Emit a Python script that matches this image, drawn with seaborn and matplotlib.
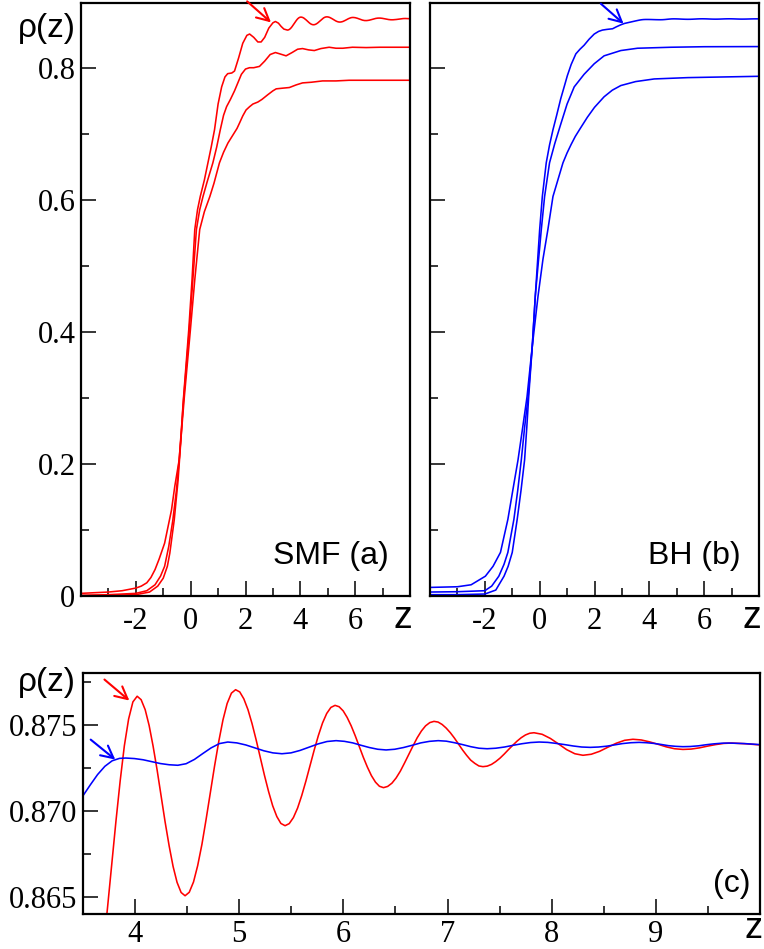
import matplotlib
matplotlib.use("Agg")
import matplotlib.pyplot as plt
import numpy as np
import pandas as pd
import seaborn as sns
from matplotlib.ticker import FixedLocator

# ---------------- data ----------------
# SMF, top curve (also shown magnified in panel c)
red_top_pts = [
    (-4.0, 0.0005), (-3.0, 0.001), (-2.0, 0.002), (-1.5, 0.006), (-1.2, 0.015),
    (-1.0, 0.027), (-0.85, 0.045), (-0.76, 0.065), (-0.6, 0.115), (-0.46, 0.175),
    (-0.35, 0.240), (-0.28, 0.290), (-0.17, 0.350), (-0.07, 0.403), (0.05, 0.479),
    (0.15, 0.555), (0.25, 0.585), (0.35, 0.605), (0.5, 0.630), (0.63, 0.656),
    (0.75, 0.680), (0.87, 0.706), (1.0, 0.745), (1.13, 0.771), (1.25, 0.786),
    (1.35, 0.791), (1.5, 0.792), (1.6, 0.795), (1.75, 0.815), (1.9, 0.837),
    (2.05, 0.849), (2.15, 0.851), (2.3, 0.846), (2.45, 0.839), (2.57, 0.839),
    (2.7, 0.846), (2.85, 0.860), (3.0, 0.868), (3.09, 0.870), (3.2, 0.8675),
    (3.3, 0.8625), (3.4, 0.8585),
    (3.530, 0.85700), (3.571, 0.85733), (3.612, 0.85832), (3.652, 0.85988), (3.693, 0.86191),
    (3.734, 0.86428), (3.775, 0.86683), (3.816, 0.86937), (3.857, 0.87174), (3.897, 0.87377),
    (3.938, 0.87533), (3.979, 0.87632), (4.020, 0.87665),
    (4.058, 0.87645), (4.097, 0.87587), (4.135, 0.87495), (4.173, 0.87375), (4.212, 0.87235),
    (4.250, 0.87086), (4.288, 0.86936), (4.327, 0.86796), (4.365, 0.86676), (4.403, 0.86584),
    (4.442, 0.86525), (4.480, 0.86506),
    (4.520, 0.86526), (4.561, 0.86586), (4.601, 0.86681), (4.642, 0.86805), (4.682, 0.86950),
    (4.723, 0.87105), (4.763, 0.87259), (4.804, 0.87404), (4.844, 0.87528), (4.884, 0.87623),
    (4.925, 0.87683), (4.965, 0.87703),
    (5.005, 0.87690), (5.044, 0.87650), (5.084, 0.87587), (5.123, 0.87506), (5.163, 0.87410),
    (5.203, 0.87308), (5.242, 0.87206), (5.282, 0.87111), (5.321, 0.87029), (5.361, 0.86966),
    (5.400, 0.86926), (5.440, 0.86913),
    (5.480, 0.86925), (5.520, 0.86960), (5.560, 0.87015), (5.600, 0.87088), (5.640, 0.87172),
    (5.680, 0.87263), (5.720, 0.87353), (5.760, 0.87437), (5.800, 0.87510), (5.840, 0.87565),
    (5.880, 0.87600), (5.920, 0.87612),
    (5.959, 0.87604), (5.998, 0.87580), (6.036, 0.87542), (6.075, 0.87493), (6.114, 0.87435),
    (6.153, 0.87373), (6.191, 0.87311), (6.230, 0.87254), (6.269, 0.87204), (6.308, 0.87166),
    (6.346, 0.87142), (6.385, 0.87134),
    (6.425, 0.87141), (6.466, 0.87160), (6.506, 0.87190), (6.547, 0.87230), (6.587, 0.87277),
    (6.628, 0.87327), (6.668, 0.87376), (6.708, 0.87423), (6.749, 0.87463), (6.789, 0.87493),
    (6.830, 0.87512), (6.870, 0.87519),
    (6.909, 0.87515), (6.948, 0.87501), (6.987, 0.87480), (7.027, 0.87453), (7.066, 0.87422),
    (7.105, 0.87388), (7.144, 0.87353), (7.183, 0.87322), (7.222, 0.87294), (7.262, 0.87275),
    (7.301, 0.87260), (7.340, 0.87256),
    (7.381, 0.87259), (7.422, 0.87269), (7.462, 0.87285), (7.503, 0.87305), (7.544, 0.87329),
    (7.585, 0.87355), (7.626, 0.87380), (7.667, 0.87404), (7.707, 0.87424), (7.748, 0.87440),
    (7.789, 0.87450), (7.830, 0.87453),
    (7.908, 0.87444), (7.987, 0.87420), (8.065, 0.87388), (8.143, 0.87355),
    (8.222, 0.87331), (8.30, 0.87322), (8.38, 0.87328), (8.46, 0.87345), (8.54, 0.87369),
    (8.62, 0.87392), (8.70, 0.87409), (8.78, 0.87415), (8.86, 0.87411), (8.94, 0.87400),
    (9.02, 0.87386), (9.10, 0.87371), (9.18, 0.87360), (9.26, 0.87356), (9.338, 0.87358),
    (9.417, 0.87365), (9.495, 0.87375), (9.573, 0.87384), (9.652, 0.87391), (9.73, 0.87393),
    (9.86, 0.87389), (10.0, 0.87382),
]
red_mid_pts = [
    (-4.0, 0.001), (-3.0, 0.002), (-2.0, 0.004), (-1.6, 0.008), (-1.3, 0.017),
    (-1.1, 0.030), (-0.95, 0.045), (-0.8, 0.075), (-0.65, 0.115), (-0.52, 0.160),
    (-0.42, 0.206), (-0.25, 0.302), (-0.05, 0.403), (0.08, 0.479), (0.21, 0.555),
    (0.33, 0.585), (0.45, 0.605), (0.6, 0.627), (0.81, 0.656), (0.95, 0.680),
    (1.08, 0.706), (1.2, 0.728), (1.31, 0.741), (1.45, 0.752), (1.6, 0.765),
    (1.72, 0.777), (1.85, 0.790), (2.0, 0.798), (2.145, 0.800), (2.3, 0.800),
    (2.51, 0.802), (2.7, 0.810), (2.9, 0.820), (3.09, 0.823), (3.25, 0.821),
    (3.48, 0.818), (3.7, 0.823), (3.9, 0.828), (4.08, 0.829), (4.3, 0.827),
    (4.51, 0.826), (4.75, 0.829), (5.05, 0.831), (5.3, 0.8295), (5.55, 0.8295),
    (5.9, 0.831), (6.4, 0.8305), (6.9, 0.831), (7.5, 0.831), (8.0, 0.831),
]
red_low_pts = [
    (-4.0, 0.004), (-3.0, 0.006), (-2.5, 0.008), (-2.0, 0.012), (-1.8, 0.015),
    (-1.6, 0.020), (-1.45, 0.028), (-1.3, 0.040), (-1.15, 0.056), (-0.95, 0.080),
    (-0.7, 0.130), (-0.58, 0.166),
    (-0.42, 0.206), (-0.23, 0.302), (-0.01, 0.403), (0.15, 0.479), (0.33, 0.555),
    (0.5, 0.582), (0.7, 0.605), (0.85, 0.625), (1.05, 0.656), (1.2, 0.672),
    (1.36, 0.686), (1.54, 0.698), (1.69, 0.708), (1.78, 0.716), (1.9, 0.727),
    (2.02, 0.736), (2.15, 0.741), (2.27, 0.745), (2.45, 0.748), (2.6, 0.752),
    (2.81, 0.759), (3.0, 0.765), (3.12, 0.768), (3.35, 0.769), (3.6, 0.770),
    (3.85, 0.774), (4.08, 0.777), (4.4, 0.778), (4.81, 0.780), (5.3, 0.780),
    (5.78, 0.781), (6.5, 0.781), (8.0, 0.781),
]
# BH, top curve (also shown magnified in panel c)
blue_top_pts = [
    (-4.0, 0.002), (-3.0, 0.002), (-2.0, 0.003), (-1.6, 0.009), (-1.3, 0.030),
    (-1.15, 0.045), (-1.0, 0.066), (-0.82, 0.116), (-0.68, 0.160), (-0.55, 0.206),
    (-0.47, 0.255), (-0.40, 0.302), (-0.27, 0.378), (-0.16, 0.454), (0.0, 0.555),
    (0.097, 0.605), (0.24, 0.656), (0.36, 0.683), (0.485, 0.706), (0.62, 0.728),
    (0.768, 0.753), (0.9, 0.772), (1.01, 0.788), (1.15, 0.805), (1.32, 0.821),
    (1.47, 0.828), (1.62, 0.834), (1.8, 0.843), (1.99, 0.851), (2.15, 0.855),
    (2.29, 0.857), (2.45, 0.858), (2.66, 0.859), (2.8, 0.862), (2.96, 0.865),
    (3.09, 0.867), (3.3, 0.869), (3.5, 0.87087), (3.57, 0.87150), (3.64, 0.87210),
    (3.71, 0.87258), (3.78, 0.87290), (3.85, 0.87304), (3.91, 0.87306), (3.993, 0.87303),
    (4.077, 0.87296), (4.16, 0.87285), (4.243, 0.87274), (4.327, 0.87267), (4.41, 0.87264),
    (4.49, 0.87273), (4.57, 0.87298), (4.65, 0.87332), (4.73, 0.87365), (4.81, 0.87390),
    (4.89, 0.87399), (4.977, 0.87394), (5.063, 0.87382), (5.15, 0.87365), (5.237, 0.87348),
    (5.323, 0.87336), (5.41, 0.87331), (5.497, 0.87336), (5.583, 0.87350), (5.67, 0.87369),
    (5.757, 0.87388), (5.843, 0.87402), (5.93, 0.87407), (6.01, 0.87403), (6.09, 0.87394),
    (6.17, 0.87380), (6.25, 0.87367), (6.33, 0.87357), (6.41, 0.87353), (6.493, 0.87357),
    (6.577, 0.87367), (6.66, 0.87380), (6.743, 0.87394), (6.827, 0.87403), (6.91, 0.87407),
    (6.988, 0.87404), (7.067, 0.87395), (7.145, 0.87384), (7.223, 0.87372), (7.302, 0.87363),
    (7.38, 0.87360), (7.463, 0.87363), (7.547, 0.87370), (7.63, 0.87380), (7.713, 0.87389),
    (7.797, 0.87396), (7.88, 0.87399), (7.962, 0.87397), (8.043, 0.87391), (8.125, 0.87384),
    (8.207, 0.87376), (8.288, 0.87370), (8.37, 0.87368), (8.45, 0.87370), (8.53, 0.87375),
    (8.61, 0.87383), (8.68, 0.87390), (8.76, 0.87395), (8.84, 0.87397), (8.91, 0.87395),
    (8.98, 0.87391), (9.05, 0.87385), (9.12, 0.87378), (9.19, 0.87374), (9.26, 0.87372),
    (9.33, 0.87373), (9.41, 0.87377), (9.48, 0.87383), (9.55, 0.87388), (9.63, 0.87392),
    (9.70, 0.87393), (9.85, 0.87390), (10.0, 0.87384),
]
blue_mid_pts = [
    (-4.0, 0.006), (-3.0, 0.0065), (-2.0, 0.008), (-1.75, 0.015), (-1.49, 0.030),
    (-1.3, 0.048), (-1.16, 0.066), (-0.94, 0.116), (-0.8, 0.160), (-0.67, 0.206),
    (-0.55, 0.255), (-0.42, 0.302), (-0.27, 0.378), (-0.16, 0.454), (-0.05, 0.505),
    (0.06, 0.555), (0.18, 0.605), (0.36, 0.656), (0.55, 0.685), (0.75, 0.712),
    (1.0, 0.745), (1.26, 0.771), (1.62, 0.790), (1.99, 0.806), (2.35, 0.818),
    (2.96, 0.826), (3.57, 0.8295), (4.79, 0.831), (6.0, 0.8318), (8.0, 0.832),
]
blue_low_pts = [
    (-4.0, 0.013), (-3.0, 0.014), (-2.5, 0.017), (-1.98, 0.030), (-1.7, 0.045),
    (-1.43, 0.066), (-1.16, 0.116), (-0.98, 0.160), (-0.79, 0.206), (-0.62, 0.255),
    (-0.46, 0.302), (-0.27, 0.378), (-0.06, 0.454), (0.12, 0.510), (0.30, 0.555),
    (0.485, 0.605), (0.85, 0.656), (1.0, 0.671), (1.15, 0.684), (1.3, 0.696),
    (1.48, 0.708), (1.74, 0.725), (2.0, 0.740), (2.35, 0.756), (2.65, 0.766),
    (2.96, 0.773), (3.5, 0.779), (4.18, 0.783), (5.4, 0.785), (8.0, 0.787),
]

# tick values / labels
top_xticks = [-2, 0, 2, 4, 6]
top_xtick_labels = ["-2", "0", "2", "4", "6"]
top_yticks = [0, 0.2, 0.4, 0.6, 0.8]
top_ytick_labels = ["0", "0.2", "0.4", "0.6", "0.8"]
bot_xticks = [4, 5, 6, 7, 8, 9]
bot_xtick_labels = ["4", "5", "6", "7", "8", "9"]
bot_yticks = [0.865, 0.870, 0.875]
bot_ytick_labels = ["0.865", "0.870", "0.875"]

# arrows (tail, head) in data coordinates
arrow_a = ((2.06, 0.9005), (2.93, 0.8686))
arrow_b = ((2.23, 0.8970), (3.06, 0.8667))
arrow_c_red = ((3.706, 0.87762), (3.945, 0.87640))
arrow_c_blue = ((3.574, 0.87413), (3.81, 0.87297))

RED = "#ff0000"
BLUE = "#0000ff"


def frame(pts, name):
    d = pd.DataFrame(pts, columns=["z", "rho"])
    d["curve"] = name
    return d


red_df = pd.concat([frame(red_top_pts, "t"), frame(red_mid_pts, "m"), frame(red_low_pts, "l")])
blue_df = pd.concat([frame(blue_top_pts, "t"), frame(blue_mid_pts, "m"), frame(blue_low_pts, "l")])
red_c = frame(red_top_pts, "t")
blue_c = frame(blue_top_pts, "t")

# ---------------- style ----------------
sns.set_theme(style="white")
plt.rcParams["font.family"] = "serif"
plt.rcParams["font.serif"] = ["Liberation Serif", "DejaVu Serif"]
plt.rcParams["axes.unicode_minus"] = False
plt.rcParams["text.color"] = "black"
SERIF = ["Liberation Serif", "DejaVu Serif"]
SANS = ["Liberation Sans", "DejaVu Sans"]

W, H = 764, 949
fig = plt.figure(figsize=(W / 100, H / 100), dpi=100)


def px_axes(l, t, r, b):
    return fig.add_axes([l / W, 1 - b / H, (r - l) / W, (b - t) / H])


ax_a = px_axes(81, 3, 410, 596)
ax_b = px_axes(430, 3, 759, 596)
ax_c = px_axes(83, 673, 760, 914)

LW = 1.15
for ax, df, col in ((ax_a, red_df, RED), (ax_b, blue_df, BLUE)):
    sns.lineplot(data=df, x="z", y="rho", units="curve", estimator=None, sort=False,
                 color=col, lw=LW, ax=ax, legend=False)
sns.lineplot(data=red_c, x="z", y="rho", estimator=None, sort=False, color=RED, lw=LW,
             ax=ax_c, legend=False)
sns.lineplot(data=blue_c, x="z", y="rho", estimator=None, sort=False, color=BLUE, lw=LW,
             ax=ax_c, legend=False)


def style(ax, xpad=8):
    for s in ax.spines.values():
        s.set_linewidth(1.6)
        s.set_color("black")
        s.set_visible(True)
    ax.tick_params(which="both", direction="in", top=False, right=False,
                   bottom=True, left=True, color="black", width=1.1)
    ax.tick_params(which="major", length=11, labelsize=22, colors="black")
    ax.tick_params(which="minor", length=5.5)
    ax.tick_params(axis="x", which="major", pad=xpad)
    ax.tick_params(axis="y", which="major", pad=4)
    ax.set_xlabel("")
    ax.set_ylabel("")


for ax in (ax_a, ax_b):
    ax.set_xlim(-4, 8)
    ax.set_ylim(0, 0.898)
    ax.set_xticks(top_xticks)
    ax.set_xticklabels(top_xtick_labels)
    ax.xaxis.set_minor_locator(FixedLocator([-3, -1, 1, 3, 5, 7]))
    ax.set_yticks(top_yticks)
    ax.yaxis.set_minor_locator(FixedLocator([0.1, 0.3, 0.5, 0.7]))
    style(ax)
ax_a.set_yticklabels(top_ytick_labels)
ax_b.set_yticklabels([])

ax_c.set_xlim(3.5, 10)
ax_c.set_ylim(0.864, 0.878)
ax_c.set_xticks(bot_xticks)
ax_c.set_xticklabels(bot_xtick_labels)
ax_c.xaxis.set_minor_locator(FixedLocator([4.5, 5.5, 6.5, 7.5, 8.5, 9.5]))
ax_c.set_yticks(bot_yticks)
ax_c.set_yticklabels(bot_ytick_labels)
ax_c.yaxis.set_minor_locator(FixedLocator([0.8675, 0.8725, 0.8775]))
style(ax_c, xpad=4)

for ax in (ax_a, ax_b, ax_c):
    for lbl in ax.get_xticklabels() + ax.get_yticklabels():
        lbl.set_family(SERIF)


def arrow(ax, a, col):
    (x0, y0), (x1, y1) = a
    ax.annotate("", xy=(x1, y1), xytext=(x0, y0), annotation_clip=False,
                arrowprops=dict(arrowstyle="->,head_length=0.55,head_width=0.28", color=col,
                                lw=1.5, shrinkA=0, shrinkB=0, mutation_scale=16))


arrow(ax_a, arrow_a, RED)
arrow(ax_b, arrow_b, BLUE)
arrow(ax_c, arrow_c_red, RED)
arrow(ax_c, arrow_c_blue, BLUE)


def ftext(x, y, s, size, **kw):
    fig.text(x / W, 1 - y / H, s, fontsize=size, family=SANS, color="black",
             ha="center", va="center", **kw)


ftext(47, 28, "ρ(z)", 24)
ftext(47, 683, "ρ(z)", 24)
ftext(403, 618, "z", 27)
ftext(752, 618, "z", 27)
ftext(753, 929, "z", 26)
ftext(331, 556, "SMF (a)", 23)
ftext(694, 556, "BH (b)", 23)
ftext(732, 884, "(c)", 23)

fig.savefig("out.png", dpi=100)
